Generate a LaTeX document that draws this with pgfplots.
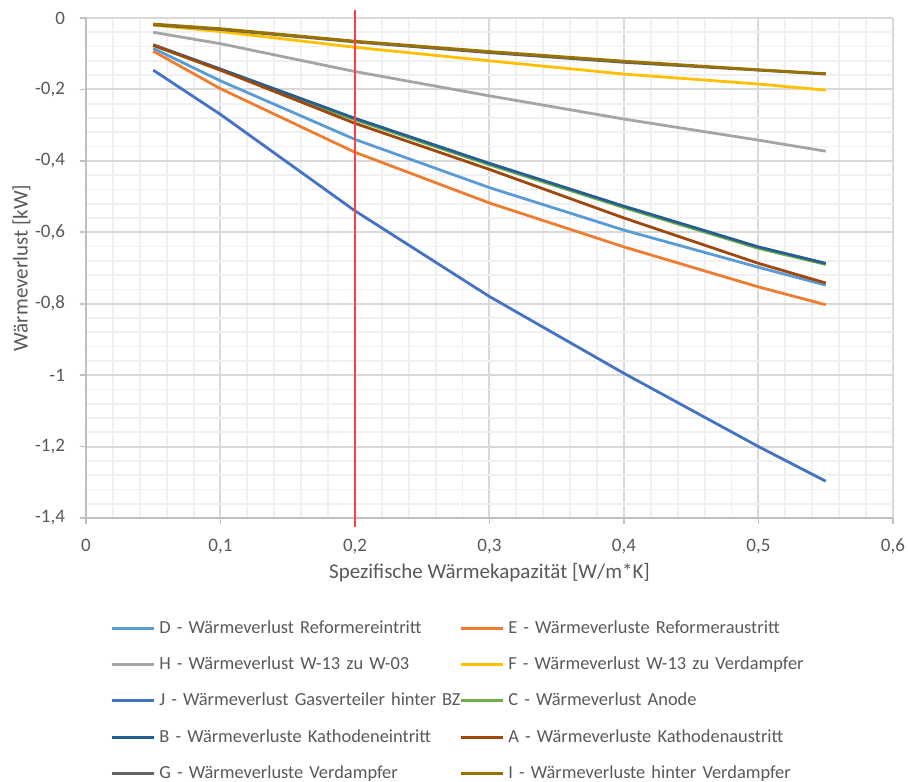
\documentclass[border=0pt]{standalone}
\usepackage{fontspec}
\setmainfont{Carlito}
\usepackage{pgfplots}
\pgfplotsset{compat=1.18}

\definecolor{txt}{HTML}{595959}
\definecolor{gridmaj}{HTML}{D9D9D9}
\definecolor{gridmin}{HTML}{F0F0F0}
\definecolor{axln}{HTML}{BFBFBF}
\definecolor{cD}{HTML}{5B9BD5}
\definecolor{cE}{HTML}{ED7D31}
\definecolor{cH}{HTML}{A5A5A5}
\definecolor{cF}{HTML}{FFC000}
\definecolor{cJ}{HTML}{4472C4}
\definecolor{cC}{HTML}{70AD47}
\definecolor{cB}{HTML}{255E91}
\definecolor{cA}{HTML}{9E480E}
\definecolor{cG}{HTML}{636363}
\definecolor{cI}{HTML}{997300}

\begin{document}
\begin{tikzpicture}
\useasboundingbox (0,0) rectangle (454pt,390.5pt);
\begin{axis}[
  at={(43pt,131.5pt)}, anchor=south west,
  scale only axis, width=403.5pt, height=250pt,
  xmin=0, xmax=0.6, ymin=-1.4, ymax=0,
  xtick={0,0.1,...,0.6}, ytick={-1.4,-1.2,...,0},
  minor x tick num=4, minor y tick num=4,
  grid=both,
  major grid style={gridmaj, line width=1pt},
  minor grid style={gridmin, line width=0.9pt},
  axis x line*=bottom, axis y line*=left,
  axis line style={axln, line width=1pt},
  tick align=outside, major tick length=3pt, minor tick length=0pt,
  tick style={axln, line width=0.8pt},
  clip=false,
  /pgf/number format/.cd, use comma, fixed, precision=1, assume math mode=true,
  /pgfplots/.cd,
  tick label style={font=\fontsize{9.5}{11}\selectfont, text=txt},
  xticklabel style={yshift=-4pt},
  yticklabel style={xshift=-4pt},
  xlabel={Spezifische Wärmekapazität [W/m*K]},
  ylabel={Wärmeverlust [kW]},
  label style={font=\fontsize{10.5}{12}\selectfont, text=txt},
  xlabel style={at={(axis description cs:0.5,-0.11)}, anchor=center},
  ylabel style={at={(axis description cs:-0.080,0.5)}, anchor=center},
  legend columns=2,
  legend cell align=left,
  legend image code/.code={\draw[#1, line width=1.5pt] (0pt,0pt) -- (21pt,0pt);},
  legend style={at={(axis description cs:0.0297,-0.202)}, anchor=north west,
    draw=none, fill=none, inner sep=0pt, font=\fontsize{9.2}{11}\selectfont, text=txt,
    row sep=9.1pt,
    nodes={inner xsep=2pt, inner ysep=0pt, text height=7pt, text depth=2pt},
    /tikz/every even column/.append style={column sep=0pt,
      nodes={text width=148pt, align=left}}},
  every axis plot/.append style={line width=1.4pt},
]
% D - Reformereintritt
\addplot[cD] coordinates {(0.05,-0.085) (0.1,-0.176) (0.2,-0.340) (0.3,-0.475) (0.4,-0.594) (0.5,-0.698) (0.55,-0.748)};
\addlegendentry{\mbox{D - Wärmeverlust Reformereintritt}}
% E - Reformeraustritt
\addplot[cE] coordinates {(0.05,-0.093) (0.1,-0.198) (0.2,-0.376) (0.3,-0.518) (0.4,-0.641) (0.5,-0.753) (0.55,-0.803)};
\addlegendentry{\mbox{E - Wärmeverluste Reformeraustritt}}
% H - W-13 zu W-03
\addplot[cH] coordinates {(0.05,-0.040) (0.1,-0.072) (0.2,-0.150) (0.3,-0.218) (0.4,-0.283) (0.5,-0.342) (0.55,-0.373)};
\addlegendentry{\mbox{H - Wärmeverlust W-13 zu W-03}}
% F - W-13 zu Verdampfer
\addplot[cF] coordinates {(0.05,-0.020) (0.1,-0.038) (0.2,-0.082) (0.3,-0.120) (0.4,-0.157) (0.5,-0.185) (0.55,-0.202)};
\addlegendentry{\mbox{F - Wärmeverlust W-13 zu Verdampfer}}
% J - Gasverteiler hinter BZ
\addplot[cJ] coordinates {(0.05,-0.146) (0.1,-0.270) (0.2,-0.540) (0.3,-0.780) (0.4,-0.995) (0.5,-1.200) (0.55,-1.297)};
\addlegendentry{\mbox{J - Wärmeverlust Gasverteiler hinter BZ}}
% C - Anode
\addplot[cC] coordinates {(0.05,-0.077) (0.1,-0.146) (0.2,-0.285) (0.3,-0.411) (0.4,-0.531) (0.5,-0.645) (0.55,-0.690)};
\addlegendentry{\mbox{C - Wärmeverlust Anode}}
% B - Kathodeneintritt
\addplot[cB] coordinates {(0.05,-0.075) (0.1,-0.143) (0.2,-0.281) (0.3,-0.407) (0.4,-0.527) (0.5,-0.641) (0.55,-0.687)};
\addlegendentry{\mbox{B - Wärmeverluste Kathodeneintritt}}
% A - Kathodenaustritt
\addplot[cA] coordinates {(0.05,-0.076) (0.1,-0.146) (0.2,-0.295) (0.3,-0.424) (0.4,-0.560) (0.5,-0.687) (0.55,-0.742)};
\addlegendentry{\mbox{A - Wärmeverluste Kathodenaustritt}}
% G - Verdampfer
\addplot[cG] coordinates {(0.05,-0.019) (0.1,-0.032) (0.2,-0.067) (0.3,-0.097) (0.4,-0.124) (0.5,-0.146) (0.55,-0.157)};
\addlegendentry{\mbox{G - Wärmeverluste Verdampfer}}
% I - hinter Verdampfer
\addplot[cI] coordinates {(0.05,-0.017) (0.1,-0.030) (0.2,-0.065) (0.3,-0.094) (0.4,-0.121) (0.5,-0.145) (0.55,-0.156)};
\addlegendentry{\mbox{I - Wärmeverluste hinter Verdampfer}}
% marker line at 0.2 W/m*K
\addplot[red!75, line width=0.7pt, forget plot] coordinates {(0.2,0.022) (0.2,-1.425)};
\end{axis}
\end{tikzpicture}
\end{document}
